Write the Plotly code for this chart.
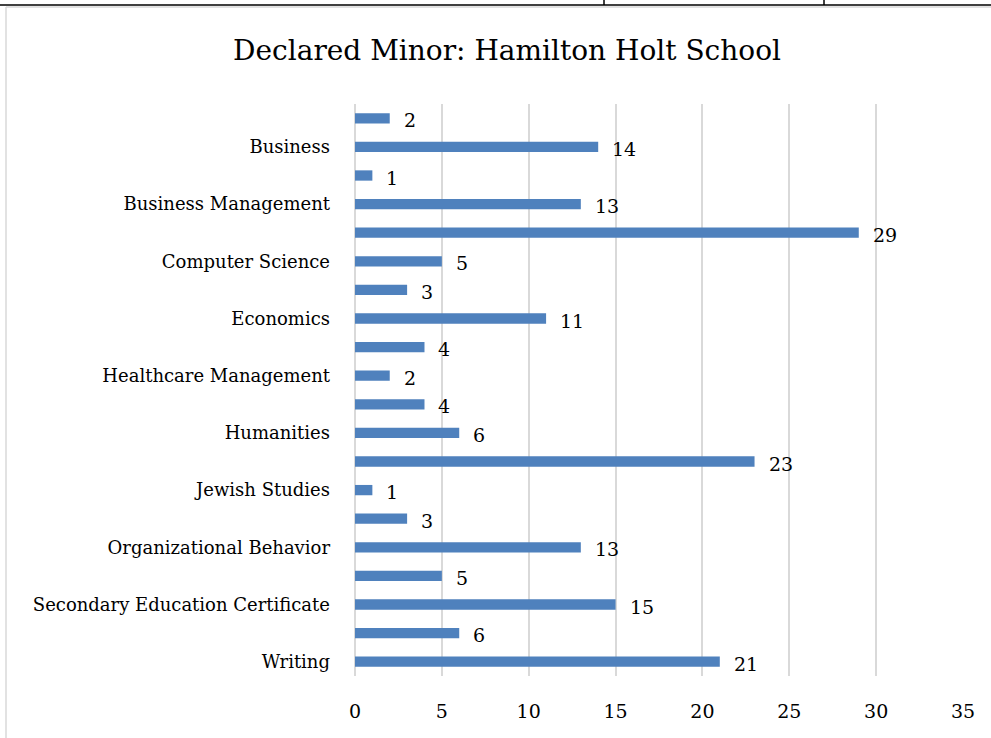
import plotly.graph_objects as go

# Categories top to bottom; Excel shows only every other label
categories = ["", "Business", "", "Business Management", "", "Computer Science",
              "", "Economics", "", "Healthcare Management", "", "Humanities",
              "", "Jewish Studies", "", "Organizational Behavior", "",
              "Secondary Education Certificate", "", "Writing"]
values = [2, 14, 1, 13, 29, 5, 3, 11, 4, 2, 4, 6, 23, 1, 3, 13, 5, 15, 6, 21]
x_ticks = [0, 5, 10, 15, 20, 25, 30, 35]

positions = list(range(len(categories)))
FONT = "DejaVu Serif"

fig = go.Figure(go.Bar(
    x=values, y=positions, orientation="h",
    marker=dict(color="#4f81bd", line=dict(width=0)),
    width=0.36,
))

# data labels as annotations next to bar ends
for p, v in zip(positions, values):
    fig.add_annotation(x=v, y=p, xref="x", yref="y", text=str(v), showarrow=False,
                       xanchor="left", yanchor="middle", xshift=12, yshift=-2,
                       font=dict(family=FONT, size=19, color="#000000"))

W, H = 991, 738
L, R, T, B = 355, 28, 104, 62
pw, ph = W - L - R, H - T - B

def px(x):
    return (x - L) / pw

def py(y):
    return 1 - (y - T) / ph

shapes = [
    dict(type="line", xref="paper", yref="paper", x0=px(0), x1=px(991), y0=py(5), y1=py(5),
         line=dict(color="#000000", width=1.5)),
    dict(type="line", xref="paper", yref="paper", x0=px(604), x1=px(604), y0=py(0), y1=py(5),
         line=dict(color="#000000", width=1.5)),
    dict(type="line", xref="paper", yref="paper", x0=px(824), x1=px(824), y0=py(0), y1=py(5),
         line=dict(color="#000000", width=1.5)),
    dict(type="line", xref="paper", yref="paper", x0=px(6), x1=px(991), y0=py(7), y1=py(7),
         line=dict(color="#d9d9d9", width=1.5)),
    dict(type="line", xref="paper", yref="paper", x0=px(6), x1=px(6), y0=py(7), y1=py(738),
         line=dict(color="#d9d9d9", width=1.5)),
]

fig.update_layout(
    width=W, height=H,
    margin=dict(l=L, r=R, t=T, b=B),
    paper_bgcolor="white", plot_bgcolor="white",
    title=dict(text="Declared Minor: Hamilton Holt School", x=507 / W, xanchor="center",
               y=1 - 50 / H, yanchor="middle",
               font=dict(family=FONT, size=28, color="#000000")),
    font=dict(family=FONT, color="#000000"),
    xaxis=dict(range=[0, 35], tickvals=x_ticks, ticktext=[str(t) for t in x_ticks],
               showgrid=True, gridcolor="#d9d9d9", gridwidth=1.5,
               zeroline=True, zerolinecolor="#d9d9d9", zerolinewidth=1.5,
               showline=False, ticks="", tickfont=dict(family=FONT, size=19, color="#000000"),
               ticklabelstandoff=22),
    yaxis=dict(tickvals=positions, ticktext=categories, autorange=False,
               range=[len(categories) - 0.5, -0.5],
               showgrid=False, zeroline=False, showline=False, ticks="",
               tickfont=dict(family=FONT, size=18, color="#000000"),
               ticklabelstandoff=24),
    shapes=shapes,
    showlegend=False,
)

fig.write_html("out.html", config={"displayModeBar": False},
               post_script="document.body.style.margin='0';")
